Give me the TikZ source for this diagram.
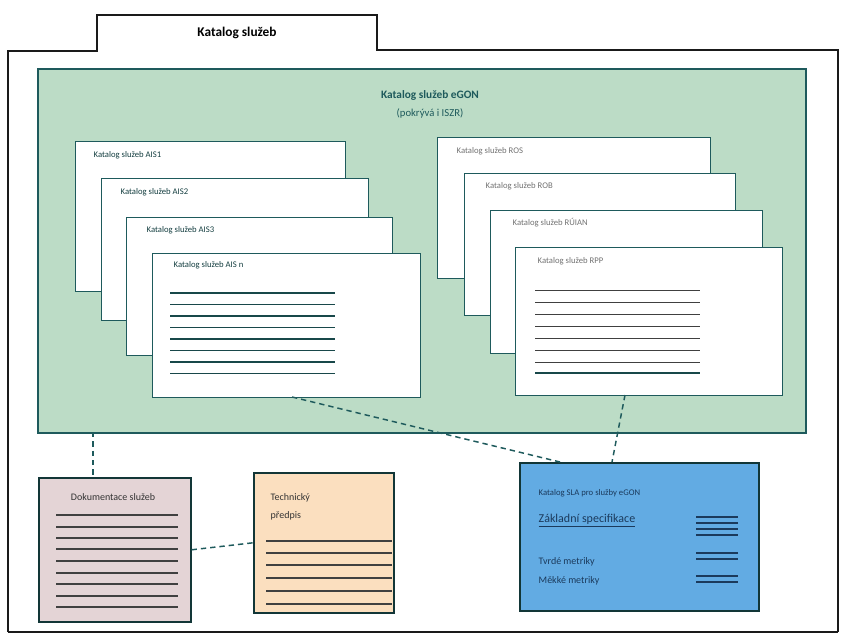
\documentclass[tikz,border=0pt]{standalone}
\usepackage{fontspec}
\setmainfont{Carlito}
\usetikzlibrary{calc}
\definecolor{frameink}{HTML}{1A1A1A}
\definecolor{teal}{HTML}{1E5A5C}
\definecolor{greenfill}{HTML}{BCDCC6}
\definecolor{pinkfill}{HTML}{E4D4D6}
\definecolor{peachfill}{HTML}{FBDFBF}
\definecolor{bluefill}{HTML}{62ABE3}
\definecolor{navy}{HTML}{1B3A5C}
\tikzset{
  card/.style={draw=teal, line width=1.1pt, fill=white, anchor=north west, inner sep=0pt},
  cardtitle/.style={anchor=west, font=\fontsize{6.5}{7}\selectfont, text=teal!70!black},
  textline/.style={draw=teal!80!black, line width=1pt},
  thinline/.style={draw=black!75, line width=0.6pt},
  conn/.style={draw=teal, line width=1.1pt, dash pattern=on 4pt off 3pt},
  docbox/.style={draw=teal!60!black, line width=1.2pt, anchor=north west, inner sep=0pt}
}
\begin{document}
\begin{tikzpicture}[x=0.75pt,y=-0.75pt]
\useasboundingbox (0,0) rectangle (842,639);
\fill[white] (0,0) rectangle (842,639);

% outer frame with tab
\draw[frameink, line width=1.2pt] (8,632) -- (8,51) -- (97,51) -- (97,15) -- (377,15) -- (377,50) -- (838,50) -- (838,632);
\draw[frameink, line width=0.8pt] (8,632) -- (838,632);
\node[font=\bfseries\fontsize{10}{12}\selectfont] (tabtitle) at (237,33) {Katalog služeb};

% green container
\node[draw=teal, line width=1.4pt, fill=greenfill, anchor=north west, inner sep=0pt,
      minimum width=768*0.75pt, minimum height=364*0.75pt] (green) at (37,68) {};
\node[text=teal, font=\bfseries\fontsize{8.5}{10}\selectfont] (gtitle) at (430,95) {Katalog služeb eGON};
\node[text=teal, font=\fontsize{8}{10}\selectfont] (gsub) at (430,113) {(pokrývá i ISZR)};

% left stack of catalogues
\node[card, minimum width=270*0.75pt, minimum height=150*0.75pt] (a1) at (75,141) {};
\node[cardtitle] (a1t) at ($(a1.north west)+(14,14)$) {Katalog služeb AIS1};
\node[card, minimum width=267*0.75pt, minimum height=142*0.75pt] (a2) at (101,178) {};
\node[cardtitle] (a2t) at ($(a2.north west)+(15,14)$) {Katalog služeb AIS2};
\node[card, minimum width=266*0.75pt, minimum height=138*0.75pt] (a3) at (126,217) {};
\node[cardtitle] (a3t) at ($(a3.north west)+(16,13)$) {Katalog služeb AIS3};
\node[card, minimum width=268*0.75pt, minimum height=144*0.75pt] (a4) at (152,253) {};
\node[cardtitle] (a4t) at ($(a4.north west)+(17,12)$) {Katalog služeb AIS n};
\foreach \yy in {293,304.5,316,327.5,339,350.5,362,373.5}
  \draw[textline] (170,\yy) -- (335,\yy);

% right stack of catalogues
\node[card, minimum width=273*0.75pt, minimum height=141*0.75pt] (r1) at (437,137) {};
\node[cardtitle, text=black!55] (r1t) at ($(r1.north west)+(15,14)$) {Katalog služeb ROS};
\node[card, minimum width=271*0.75pt, minimum height=142*0.75pt] (r2) at (464,173) {};
\node[cardtitle, text=black!55] (r2t) at ($(r2.north west)+(17,13)$) {Katalog služeb ROB};
\node[card, minimum width=272*0.75pt, minimum height=143*0.75pt] (r3) at (490,210) {};
\node[cardtitle, text=black!55] (r3t) at ($(r3.north west)+(18,13)$) {Katalog služeb RÚIAN};
\node[card, minimum width=267*0.75pt, minimum height=148*0.75pt] (r4) at (515,247) {};
\node[cardtitle, text=black!55] (r4t) at ($(r4.north west)+(18,14)$) {Katalog služeb RPP};
\foreach \yy in {290,302,314,326,338,350,362}
  \draw[thinline] (535,\yy) -- (700,\yy);
\draw[textline] (535,373) -- (700,373);

% service documentation (pink)
\node[docbox, fill=pinkfill, minimum width=152*0.75pt, minimum height=144*0.75pt] (pink) at (38,477) {};
\node[font=\fontsize{7.5}{9}\selectfont, text=black!80] (pinktitle) at (113,497) {Dokumentace služeb};
\foreach \yy in {515,527,538,549,561,573,584,596,607}
  \draw[thinline, line width=0.8pt] (56,\yy) -- (178,\yy);

% technical specification (peach)
\node[docbox, fill=peachfill, minimum width=140*0.75pt, minimum height=140*0.75pt] (peach) at (253,472) {};
\node[font=\fontsize{7.5}{9}\selectfont, text=black!80, anchor=west] (peach1) at (266,498) {Technický};
\node[font=\fontsize{7.5}{9}\selectfont, text=black!80, anchor=west] (peach2) at (266,516) {předpis};
\foreach \yy in {541,553,565,578,591,604}
  \draw[thinline, line width=0.8pt] (266,\yy) -- (392,\yy);

% SLA catalogue (blue)
\node[docbox, fill=bluefill, minimum width=239*0.75pt, minimum height=148*0.75pt] (blue) at (519,462) {};
\node[font=\fontsize{6.5}{8}\selectfont, text=navy, anchor=west] (bluetitle) at (534,493) {Katalog SLA pro služby eGON};
\node[font=\fontsize{9}{11}\selectfont, text=navy, anchor=west] (blue1) at (534,521) {\underline{Základní specifikace}};
\node[font=\fontsize{7.5}{9}\selectfont, text=navy, anchor=west] (blue2) at (534,562) {Tvrdé metriky};
\node[font=\fontsize{7.5}{9}\selectfont, text=navy, anchor=west] (blue3) at (534,581) {Měkké metriky};
\foreach \yy in {517,523,529,535,553,559,576,582}
  \draw[navy, line width=1.2pt] (696,\yy) -- (738,\yy);

% connectors
\coordinate (gpink) at (93,432);
\coordinate (pinktop) at (93,477);
\draw[conn] (gpink) -- (pinktop);
\draw[conn] (pink.east) -- (peach.west);
\coordinate (a4foot) at (292,397);
\coordinate (bluecorner) at (560,462);
\draw[conn] (a4foot) -- (bluecorner);
\coordinate (r4foot) at (625,395);
\coordinate (bluetop) at (612,462);
\draw[conn] (r4foot) -- (bluetop);
\end{tikzpicture}
\end{document}
